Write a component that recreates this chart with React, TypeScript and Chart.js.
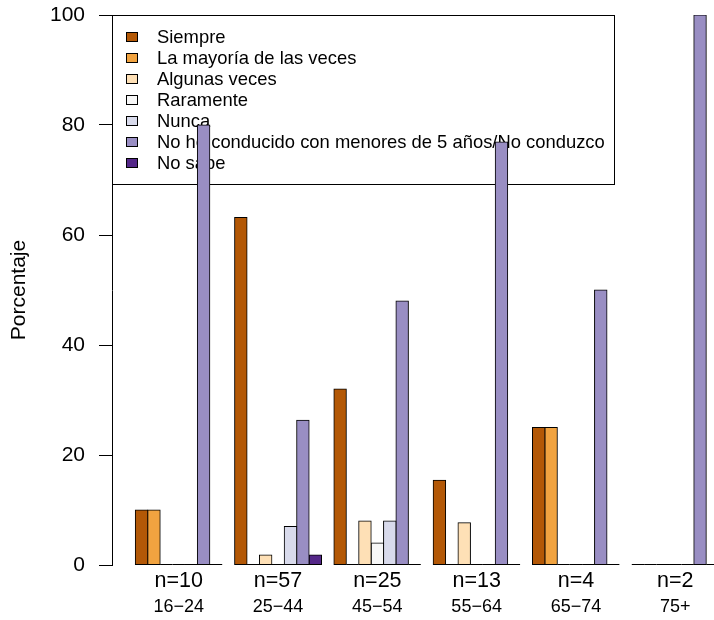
import React, { useEffect, useRef } from "react";
import { Chart, registerables } from "chart.js";

Chart.register(...registerables);

const ageGroups = ["16−24", "25−44", "45−54", "55−64", "65−74", "75+"];
const sampleSizes = ["n=10", "n=57", "n=25", "n=13", "n=4", "n=2"];

const seriesNames = [
  "Siempre",
  "La mayoría de las veces",
  "Algunas veces",
  "Raramente",
  "Nunca",
  "No he conducido con menores de 5 años/No conduzco",
  "No sabe",
];
const seriesColors = ["#B35806", "#F1A340", "#FEE0B6", "#F7F7F7", "#D8DAEB", "#998EC3", "#542788"];

const siempre = [10, 63.2, 32, 15.4, 25, 0];
const mayoria = [10, 0, 0, 0, 25, 0];
const algunas = [0, 1.8, 8, 7.7, 0, 0];
const raramente = [0, 0, 4, 0, 0, 0];
const nunca = [0, 7.0, 8, 0, 0, 0];
const noConducido = [80, 26.3, 48, 76.9, 50, 100];
const noSabe = [0, 1.8, 0, 0, 0, 0];

const seriesValues = [siempre, mayoria, algunas, raramente, nunca, noConducido, noSabe];

const yTicksStep = 20;

// R barplot(beside=TRUE) units: each group is 7 bars + 1 gap
const barsPerGroup = seriesNames.length;
const groupSpan = barsPerGroup + 1;
const groupCenters = ageGroups.map((_, i) => 1 + i * groupSpan + barsPerGroup / 2);
const xFirst = 1;
const xLast = ageGroups.length * groupSpan;
const xPad = (xLast - xFirst) * 0.04;

const FONT = '"Liberation Sans", Arial, Helvetica, sans-serif';

const rLegend = {
  id: "rLegend",
  beforeDatasetsDraw(chart: any) {
    const { ctx, chartArea } = chart;
    const left = Math.round(chartArea.left);
    const top = Math.round(chartArea.top);
    const rowH = 21.1;
    ctx.save();
    ctx.font = "18.4px " + FONT;
    const textX = left + 45;
    let maxW = 0;
    chart.data.datasets.forEach((ds: any) => {
      maxW = Math.max(maxW, ctx.measureText(ds.label).width);
    });
    const w = Math.round(textX + maxW + 9 - left);
    const n = chart.data.datasets.length;
    const h = Math.round(21.7 + (n - 1) * rowH + 20.7);
    ctx.strokeStyle = "#000";
    ctx.lineWidth = 1;
    ctx.strokeRect(left + 0.5, top + 0.5, w, h);
    ctx.textBaseline = "middle";
    ctx.textAlign = "left";
    chart.data.datasets.forEach((ds: any, i: number) => {
      const cy = Math.round(top + 21.7 + i * rowH);
      ctx.fillStyle = ds.backgroundColor;
      ctx.fillRect(left + 14, cy - 5, 12, 10);
      ctx.strokeRect(left + 14.5, cy - 4.5, 11, 9);
      ctx.fillStyle = "#000";
      ctx.fillText(ds.label, textX, cy + 1);
    });
    ctx.restore();
  },
};

const zeroBars = {
  id: "zeroBars",
  afterDatasetsDraw(chart: any) {
    const { ctx } = chart;
    ctx.save();
    ctx.strokeStyle = "#000";
    ctx.lineWidth = 1;
    chart.data.datasets.forEach((ds: any, di: number) => {
      const meta = chart.getDatasetMeta(di);
      meta.data.forEach((el: any, i: number) => {
        const v = meta._parsed[i] ? meta._parsed[i].y : null;
        if (v === 0) {
          const y = Math.round(el.base) - 0.5;
          ctx.beginPath();
          ctx.moveTo(el.x - el.width / 2, y);
          ctx.lineTo(el.x + el.width / 2, y);
          ctx.stroke();
        }
      });
    });
    ctx.restore();
  },
};

export default function App() {
  const ref = useRef<HTMLCanvasElement | null>(null);

  useEffect(() => {
    if (!ref.current) return;
    Chart.defaults.font.family = FONT;
    Chart.defaults.color = "#000";
    const setTicks = (scale: any) => {
      scale.ticks = groupCenters.map((v) => ({ value: v }));
    };
    const chart = new Chart(ref.current, {
      type: "bar",
      data: {
        datasets: seriesNames.map((name, si) => ({
          label: name,
          data: seriesValues[si].map((v, gi) => ({ x: groupCenters[gi], y: v })),
          backgroundColor: seriesColors[si],
          borderColor: "#000",
          borderWidth: 1,
          borderSkipped: false,
          inflateAmount: 0.5,
          categoryPercentage: barsPerGroup / groupSpan,
          barPercentage: 1,
        })),
      },
      options: {
        animation: false,
        responsive: false,
        devicePixelRatio: 1,
        layout: { padding: { top: 15, left: 0, right: 0, bottom: 0 } },
        plugins: { legend: { display: false }, tooltip: { enabled: false } },
        scales: {
          x: {
            type: "linear",
            position: "bottom",
            weight: 0,
            offset: false,
            min: xFirst - xPad,
            max: xLast + xPad,
            grid: { display: false, drawTicks: false, tickLength: 0, offset: false },
            border: { display: false },
            afterBuildTicks: setTicks,
            afterFit: (s: any) => {
              s.height = 28;
            },
            ticks: {
              autoSkip: false,
              maxRotation: 0,
              padding: 3,
              font: { size: 21.5 },
              color: "#000",
              callback: (_v: any, i: number) => sampleSizes[i],
            },
          },
          x2: {
            type: "linear",
            position: "bottom",
            weight: 1,
            offset: false,
            min: xFirst - xPad,
            max: xLast + xPad,
            grid: { display: false, drawTicks: false, tickLength: 0, offset: false },
            border: { display: false },
            afterBuildTicks: setTicks,
            afterFit: (s: any) => {
              s.height = 27;
            },
            ticks: {
              autoSkip: false,
              maxRotation: 0,
              padding: 3,
              font: { size: 18 },
              color: "#000",
              callback: (_v: any, i: number) => ageGroups[i],
            },
          },
          y: {
            type: "linear",
            position: "left",
            min: 0,
            max: 100,
            afterFit: (s: any) => {
              s.width = 112;
              s.paddingTop = 0;
              s.paddingBottom = 0;
            },
            grid: {
              drawOnChartArea: false,
              drawTicks: true,
              tickLength: 13,
              color: "#000",
              lineWidth: 1,
            },
            border: { display: true, color: "#000", width: 1 },
            ticks: {
              stepSize: yTicksStep,
              padding: 14,
              font: { size: 21 },
              color: "#000",
            },
            title: {
              display: true,
              text: "Porcentaje",
              font: { size: 21 },
              color: "#000",
              padding: { top: 7, bottom: 0 },
            },
          },
        },
      } as any,
      plugins: [rLegend, zeroBars],
    });
    return () => chart.destroy();
  }, []);

  return (
    <div
      style={{
        position: "fixed",
        left: 0,
        top: 0,
        width: 714,
        height: 620,
        overflow: "hidden",
        background: "#fff",
      }}
    >
      <canvas
        ref={ref}
        width={742}
        height={620}
        style={{ display: "block", width: 742, height: 620 }}
      />
    </div>
  );
}
